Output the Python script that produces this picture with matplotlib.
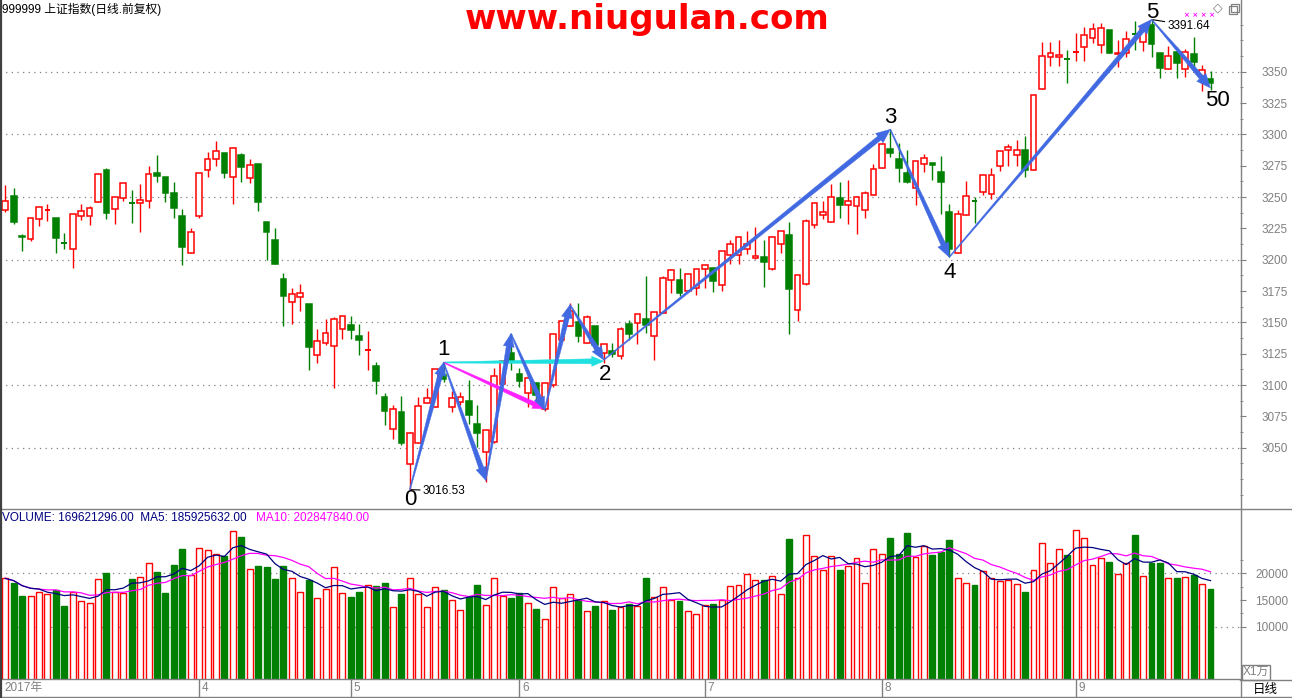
import numpy as np
import pandas as pd
import matplotlib
matplotlib.use('Agg')
import matplotlib.pyplot as plt
from matplotlib.patches import Rectangle, Polygon
from matplotlib.lines import Line2D
from matplotlib.transforms import IdentityTransform

# ---------------- data ----------------
opens = [3240, 3250.5, 3219, 3216.6, 3232.6, 3239.8, 3233.4, 3213.4, 3208.5, 3235,
         3235, 3246.3, 3271.4, 3240.4, 3249.5, 3245.7, 3245.4, 3247.1, 3269, 3265.8,
         3252.9, 3234.5, 3205.3, 3234.8, 3271.9, 3280, 3285.1, 3265.7, 3283.5, 3264.9,
         3276.3, 3230, 3215.7, 3184.6, 3165.9, 3170, 3164.6, 3123.6, 3133.2, 3131.4,
         3144.4, 3147.8, 3139, 3127.4, 3115.1, 3090.4, 3065.1, 3078.4, 3037, 3053.5,
         3085.4, 3082.5, 3107.9, 3082.2, 3086.5, 3087.6, 3068.8, 3046.8, 3054.9, 3101,
         3125.6, 3108.5, 3094, 3101.5, 3080.9, 3100.4, 3136.3, 3147, 3150, 3133.9,
         3147.1, 3125.9, 3127, 3123, 3148.6, 3149.2, 3152.4, 3138.8, 3157.2, 3183.5,
         3183.5, 3174.7, 3177.1, 3192.3, 3193.1, 3179.5, 3203.4, 3203.4, 3208.2, 3201,
         3202.1, 3192.3, 3212.2, 3219.7, 3159.6, 3180.8, 3227.4, 3235.8, 3230.2, 3248.9,
         3243.8, 3242.8, 3239.8, 3251.9, 3273.5, 3288.2, 3280.2, 3269.2, 3257.2, 3276.7,
         3277.5, 3269.8, 3237.7, 3205.3, 3235.3, 3247.1, 3253.7, 3252.7, 3274.6, 3287.2,
         3283.2, 3287.6, 3271.4, 3335.9, 3361.4, 3361.4, 3360.6, 3365.4, 3369.4, 3376.6,
         3371.5, 3383.2, 3364.1, 3364.6, 3380.2, 3373.9, 3387.2, 3364.6, 3351.9, 3365.4,
         3351.9, 3364.1, 3346.5, 3343.9]
closes = [3246.5, 3230, 3218, 3233.4, 3242.2, 3240, 3217.1, 3213, 3236.6, 3239,
          3241.4, 3268.7, 3237.2, 3250.3, 3261.5, 3245.3, 3247.9, 3268.7, 3266.8, 3253.2,
          3241.2, 3209.9, 3222.5, 3269.5, 3280.7, 3286.4, 3269.4, 3288.8, 3274.2, 3275.3,
          3246.3, 3222.3, 3196.8, 3171.3, 3172.3, 3173.1, 3130.6, 3134.8, 3141.2, 3152.4,
          3154.8, 3144.1, 3136.1, 3127.8, 3103.4, 3079.5, 3080.6, 3054, 3061.6, 3083.5,
          3089.7, 3112.7, 3104.7, 3089.7, 3090.5, 3075.8, 3062.1, 3064, 3107.4, 3119.2,
          3118.9, 3103.1, 3105.8, 3092.4, 3101.8, 3140.4, 3151.1, 3159.1, 3139.5, 3154,
          3131.8, 3132.6, 3124.5, 3144.4, 3140.9, 3156.4, 3147.8, 3157.9, 3185.1, 3191.5,
          3173.6, 3188.3, 3192.3, 3195.5, 3183.2, 3206.6, 3212.2, 3217.8, 3212.2, 3202.6,
          3198.4, 3217.8, 3222.6, 3176.8, 3187.5, 3230.8, 3244.9, 3237.7, 3250.3, 3243.8,
          3247.1, 3249.7, 3252.9, 3272.7, 3292, 3285.3, 3273.3, 3262, 3279.1, 3281.5,
          3275.9, 3262, 3208.3, 3236.6, 3251.1, 3246.8, 3267.9, 3267.9, 3286.4, 3289.6,
          3287.2, 3271.6, 3331.1, 3362.5, 3364.6, 3363, 3360.3, 3365.9, 3379.2, 3383.7,
          3384.8, 3365.1, 3365.1, 3375.8, 3379.8, 3383.7, 3371.8, 3352.7, 3362.5, 3357.2,
          3365.4, 3358, 3351.3, 3341.2]
highs = [3259.4, 3257, 3220.6, 3233.4, 3242.2, 3244.1, 3233.4, 3221.6, 3236.6, 3244.6,
         3242.5, 3268.7, 3273.5, 3250.3, 3261.5, 3255.3, 3260.7, 3274.6, 3283.4, 3265.8,
         3261.8, 3240.1, 3224.9, 3269.5, 3285.6, 3294.7, 3285.1, 3289.6, 3284.8, 3280.3,
         3276.3, 3230, 3225.3, 3189.1, 3177.1, 3180.6, 3164.6, 3144.4, 3152.6, 3153.9,
         3154.8, 3155, 3148.6, 3143, 3118.3, 3093.6, 3083.7, 3091.2, 3062.5, 3090.5,
         3097.7, 3112.7, 3118, 3095.6, 3094.8, 3104.4, 3084.3, 3064, 3113.8, 3119.2,
         3141, 3113.8, 3112.2, 3101.5, 3101.8, 3140.4, 3151.1, 3165.3, 3165.3, 3155.9,
         3147.1, 3132.6, 3133.9, 3146.5, 3151.8, 3156.4, 3186.9, 3157.9, 3187, 3192.5,
         3193.3, 3188.3, 3192.3, 3195.5, 3193.1, 3206.6, 3215.7, 3218.3, 3222.9, 3225.8,
         3215.7, 3218.6, 3222.6, 3230, 3187.5, 3232.4, 3244.9, 3246.5, 3260.2, 3261.8,
         3263.9, 3250.5, 3254.8, 3276.5, 3293, 3304, 3292.8, 3287.4, 3279.1, 3284.2,
         3277.5, 3282.6, 3244.6, 3239.3, 3262.6, 3250, 3267.9, 3273.5, 3286.4, 3292.2,
         3295.5, 3298.7, 3331.1, 3373.6, 3373.6, 3375.2, 3367.3, 3380.5, 3385.3, 3389,
         3389, 3383.2, 3375.2, 3382.7, 3390.1, 3385.9, 3391.64, 3364.6, 3370.5, 3369.9,
         3368.1, 3377.4, 3355.3, 3350.5]
lows = [3238, 3228.3, 3206.7, 3214.7, 3226.7, 3230.7, 3205, 3208.3, 3193, 3231.8,
        3227.5, 3246.3, 3232.3, 3228.3, 3246.8, 3229.1, 3221.9, 3241.4, 3262, 3246,
        3233.2, 3195.4, 3205.3, 3233.4, 3266, 3275, 3265.4, 3244.7, 3262.2, 3261.4,
        3239.1, 3200, 3196.8, 3147.3, 3149, 3159.3, 3112.2, 3117.8, 3132.2, 3098,
        3137, 3137, 3124.2, 3112.2, 3092.8, 3068.3, 3057.1, 3052.4, 3016.53, 3053.5,
        3085.4, 3082.5, 3102.3, 3078.2, 3083.8, 3068.8, 3050.6, 3023, 3053.8, 3101,
        3111.7, 3098.3, 3082.2, 3087.6, 3079.5, 3098.8, 3136.3, 3147, 3134.5, 3133.9,
        3127.8, 3117.6, 3122.4, 3121, 3135.9, 3132.9, 3141.2, 3120, 3157.2, 3173.1,
        3171.3, 3174.7, 3172, 3177.6, 3174.4, 3175.2, 3196.3, 3196.3, 3204.2, 3200.5,
        3178.4, 3191.5, 3205.6, 3140.4, 3150.8, 3180, 3225.5, 3232.3, 3230.2, 3233.2,
        3228.6, 3220.6, 3233.2, 3251.9, 3273.5, 3282.1, 3262, 3261, 3243.8, 3270,
        3263.4, 3236.1, 3202, 3205.3, 3235.3, 3229.1, 3251.9, 3248.4, 3270.6, 3274.9,
        3274.6, 3266.3, 3271.4, 3335.9, 3354.8, 3354.8, 3340.7, 3358.5, 3358.8, 3372.6,
        3364.6, 3365.1, 3354, 3362, 3367.3, 3366.7, 3362, 3345.2, 3351.9, 3345.2,
        3346, 3351.3, 3334.9, 3335.4]
volumes = [19062, 18187, 15812, 15750, 16437, 16125, 16875, 13937, 16500, 14750,
           14437, 18937, 20062, 16437, 16312, 19000, 19312, 21875, 20250, 16375,
           21562, 24625, 19750, 24750, 24375, 23625, 23312, 27937, 26812, 20750,
           21375, 21187, 18937, 21375, 19062, 16437, 18687, 15312, 17000, 21187,
           16250, 15562, 16500, 17750, 17625, 18187, 13625, 16125, 19125, 16062,
           13625, 17437, 16875, 14937, 13062, 15562, 17812, 14062, 19125, 15750,
           15375, 16312, 14437, 13375, 11375, 17437, 15312, 16062, 15000, 12937,
           13937, 14750, 13187, 13625, 14250, 13875, 19187, 15500, 17437, 14937,
           14812, 12875, 12375, 14062, 14250, 14937, 17625, 17812, 19812, 18687,
           18687, 19437, 16062, 26437, 19125, 27187, 23250, 20625, 23250, 20625,
           21312, 22875, 18125, 24562, 23562, 26625, 23625, 27562, 23062, 25062,
           23437, 24062, 26250, 19125, 18125, 17812, 20375, 19062, 18562, 18687,
           17937, 16500, 20562, 25625, 21875, 24562, 23437, 28125, 26562, 21500,
           22812, 22125, 19812, 21937, 27187, 19500, 22000, 21937, 19062, 19125,
           19312, 19750, 17937, 17062]

month_start_idx = [23, 41, 61, 83, 104, 127]
month_labels = ['4', '5', '6', '7', '8', '9']
first_label = '2017年'

price_ticks = list(range(3050, 3351, 25))
price_grid = list(range(3050, 3351, 50))
vol_ticks = [10000, 15000, 20000]
vol_grid = [10000, 20000]

# wave structure: (candle index, price)
wave_idx = [48, 52, 57, 60, 64, 67, 71]
wave_val = [3016.53, 3118, 3024, 3141, 3080, 3164, 3120]
trend_idx = [71, 105, 112, 136, 143]
trend_val = [3120, 3304, 3202, 3391.64, 3337]
cyan_idx = [52, 71]
cyan_val = [3118, 3119]
mag_idx = [52, 64]
mag_val = [3118, 3081]
label_text = ['0', '1', '2', '3', '4', '5', '50']
label_idx = [48, 52, 71, 105, 112, 136, 143]
label_val = [3016.53, 3118, 3120, 3304, 3202, 3391.64, 3337]
low_note = (48, 3016.53, '3016.53')
high_note = (136, 3391.64, '3391.64')

# ---------------- layout ----------------
W, H = 1292, 698
fig = plt.figure(figsize=(W / 100, H / 100), dpi=100)
fig.patch.set_facecolor('white')


def fbox(x0, y0, x1, y1):
    return [x0 / W, 1 - y1 / H, (x1 - x0) / W, (y1 - y0) / H]


def fx(px):
    return px / W


def fy(py):
    return 1 - py / H


RED = '#FF0000'
GREEN = '#008000'
GRAY = '#808080'
BLUE = '#4169E1'
CJK = ['Liberation Sans', 'Noto Sans CJK SC']

ax = fig.add_axes(fbox(0, 0, 1240, 508))
axv = fig.add_axes(fbox(0, 510, 1240, 679))
axs = fig.add_axes(fbox(0, 679, 1240, 697))

n = len(opens)
idx = np.arange(n)
o = np.array(opens); c = np.array(closes); h = np.array(highs); l = np.array(lows)
v = np.array(volumes, dtype=float)
up = c >= o
XL = (-0.63, 146.5)

for a in (ax, axv, axs):
    a.set_xlim(*XL)
    a.set_facecolor('white')
    for s in a.spines.values():
        s.set_visible(False)

# ---------------- price panel ----------------
ax.set_ylim(3001.9, 3407.2)
for g in price_grid:
    ax.axhline(g, color=GRAY, lw=0.9, ls=(0, (1, 3.5)), zorder=1)

bw = 0.68
for i in idx:
    col = RED if up[i] else GREEN
    ax.vlines(i, l[i], h[i], color=col, lw=1.0, zorder=2)
    lo, hi = min(o[i], c[i]), max(o[i], c[i])
    if hi - lo < 0.6:
        ax.hlines((o[i] + c[i]) / 2, i - bw / 2, i + bw / 2, color=col, lw=1.4, zorder=3)
    else:
        ax.add_patch(Rectangle((i - bw / 2, lo), bw, hi - lo,
                               facecolor='white' if up[i] else GREEN,
                               edgecolor=col, lw=1.1, zorder=3))

ax.yaxis.tick_right()
ax.set_yticks(price_ticks)
ax.set_yticks(np.arange(3012.5, 3400, 12.5), minor=True)
ax.tick_params(axis='y', which='major', direction='out', length=4.3, color=GRAY,
               labelcolor=GRAY, labelsize=8.5, pad=11.5)
ax.tick_params(axis='y', which='minor', direction='out', length=2.2, color=GRAY)
for lab in ax.get_yticklabels():
    lab.set_family('Liberation Sans')
ax.set_xticks([])


def taper_arrow(axis, p0, p1, color, w0=1.0, w1=5.0, head_len=13, head_w=11, z=6):
    tr = axis.transData
    a = np.array(tr.transform(p0), dtype=float)
    b = np.array(tr.transform(p1), dtype=float)
    d = b - a
    L = np.hypot(*d)
    u = d / L
    nrm = np.array([-u[1], u[0]])
    base = b - u * head_len
    pts = [a + nrm * w0 / 2, base + nrm * w1 / 2, base + nrm * head_w / 2, b,
           base - nrm * head_w / 2, base - nrm * w1 / 2, a - nrm * w0 / 2]
    poly = Polygon(pts, closed=True, facecolor=color, edgecolor=color, lw=0.3,
                   transform=IdentityTransform(), zorder=z)
    axis.add_patch(poly)


for k in range(len(wave_idx) - 1):
    taper_arrow(ax, (wave_idx[k], wave_val[k]), (wave_idx[k + 1], wave_val[k + 1]), BLUE,
                w0=1.0, w1=5.0)
for k in range(len(trend_idx) - 1):
    taper_arrow(ax, (trend_idx[k], trend_val[k]), (trend_idx[k + 1], trend_val[k + 1]), BLUE,
                w0=1.0, w1=5.0, head_len=14, head_w=12)
taper_arrow(ax, (cyan_idx[0], cyan_val[0]), (cyan_idx[1], cyan_val[1]), '#20E0E0',
            w0=1.0, w1=5.0, head_len=12, head_w=10, z=5)
taper_arrow(ax, (mag_idx[0], mag_val[0]), (mag_idx[1], mag_val[1]), '#FF20FF',
            w0=1.0, w1=4.5, head_len=12, head_w=10, z=5)

label_offsets = [(0, -10), (0, 13), (1, -15), (0, 12), (0, -15), (1, 7), (7, -13)]
for t, xi, yv, off in zip(label_text, label_idx, label_val, label_offsets):
    ax.annotate(t, xy=(xi, yv), xytext=off, textcoords='offset pixels',
                ha='center', va='center', fontsize=16, color='black',
                family='Liberation Sans', zorder=8)

for (xi, yv, t), dx, dy in ((low_note, 13, -1), (high_note, 16, -6)):
    ax.annotate(t, xy=(xi, yv), xytext=(dx, dy),
                textcoords='offset pixels', ha='left', va='center', fontsize=8.5,
                family='Liberation Sans', color='black', zorder=8,
                arrowprops=dict(arrowstyle='-', lw=0.8, color='black', shrinkA=0, shrinkB=1))

# ---------------- volume panel ----------------
VOL_LO, VOL_HI = 187.6, 31876
axv.set_ylim(VOL_LO, VOL_HI)
for g in vol_grid:
    axv.axhline(g, color=GRAY, lw=0.9, ls=(0, (1, 3.5)), zorder=1)
vw = 0.7
for i in idx:
    if up[i]:
        axv.add_patch(Rectangle((i - vw / 2, 0), vw, v[i], facecolor='white',
                                edgecolor=RED, lw=1.0, zorder=2))
    else:
        axv.add_patch(Rectangle((i - vw / 2, 0), vw, v[i], facecolor=GREEN,
                                edgecolor=GREEN, lw=1.0, zorder=2))
vs = pd.Series(v)
ma5 = vs.rolling(5, min_periods=1).mean()
ma10 = vs.rolling(10, min_periods=1).mean()
axv.plot(idx, ma10, color='#FF00FF', lw=0.9, zorder=4)
axv.plot(idx, ma5, color='#000080', lw=0.9, zorder=4)

axv.yaxis.tick_right()
axv.set_yticks(vol_ticks)
axv.set_yticks([12500, 17500, 22500], minor=True)
axv.tick_params(axis='y', which='major', direction='out', length=4.3, color=GRAY,
                labelcolor=GRAY, labelsize=8.5, pad=6.5)
axv.tick_params(axis='y', which='minor', direction='out', length=2.2, color=GRAY)
for lab in axv.get_yticklabels():
    lab.set_family('Liberation Sans')
axv.set_xticks([])

fig.text(fx(2), fy(518), 'VOLUME: 169621296.00  MA5: 185925632.00', color='#000080',
         fontsize=8.5, family='Liberation Sans', ha='left', va='center')
fig.text(fx(256), fy(518), 'MA10: 202847840.00', color='#FF00FF',
         fontsize=8.5, family='Liberation Sans', ha='left', va='center')

# ---------------- date strip ----------------
axs.set_ylim(0, 1)
axs.set_yticks([]); axs.set_xticks([])
axs.vlines(month_start_idx, 0, 1, color=GRAY, lw=1.0)
axs.annotate(first_label, xy=(XL[0], 0.5), xytext=(4, 0), textcoords='offset pixels',
             ha='left', va='center', fontsize=8.5, color=GRAY, family=CJK)
for mi, ml in zip(month_start_idx, month_labels):
    axs.annotate(ml, xy=(mi, 0.5), xytext=(3, 0), textcoords='offset pixels',
                 ha='left', va='center', fontsize=8.5, color=GRAY, family='Liberation Sans')

# ---------------- frame & decorations ----------------
def fline(x0, y0, x1, y1, color=GRAY, lw=1.0):
    fig.add_artist(Line2D([fx(x0), fx(x1)], [fy(y0), fy(y1)], color=color, lw=lw,
                          transform=fig.transFigure))

fline(1240.5, 0, 1240.5, 698)
fline(0, 509, 1292, 509)
fline(0, 679, 1240, 679)
fline(0, 697, 1292, 697)
fline(1, 0, 1, 698, color='#404040', lw=1.6)
fline(1240, 680, 1292, 680)

fig.add_artist(Rectangle((fx(1242), fy(680)), fx(28), 15 / H, facecolor='white',
                         edgecolor=GRAY, lw=1.0, transform=fig.transFigure))
fig.text(fx(1256), fy(672), 'X1万', fontsize=8.5, color=GRAY, ha='center', va='center',
         family=CJK)
fig.text(fx(1265), fy(689), '日线', fontsize=9, color='black', ha='center', va='center',
         family=['Noto Sans CJK SC'])

fig.text(fx(2), fy(9), '999999 上证指数(日线.前复权)', fontsize=8.5, color='black',
         ha='left', va='center', family=CJK)
fig.text(fx(647), fy(20), 'www.niugulan.com', fontsize=24.5, color='#FF0000',
         fontweight='bold', ha='center', va='center', family='DejaVu Sans')
fig.text(fx(1199), fy(15), '× × × ×', fontsize=5, color='#FF00FF', ha='center',
         va='center', fontweight='bold', family='DejaVu Sans')
fig.text(fx(1218), fy(8), '◇', fontsize=9, color=GRAY, ha='center', va='center',
         family='DejaVu Sans')
fig.add_artist(Rectangle((fx(1229), fy(14)), fx(8), 8 / H, facecolor='white',
                         edgecolor=GRAY, lw=0.9, transform=fig.transFigure))
fig.add_artist(Rectangle((fx(1231), fy(12)), fx(8), 8 / H, facecolor='none',
                         edgecolor=GRAY, lw=0.9, transform=fig.transFigure))

fig.savefig('out.png', dpi=100, facecolor='white')
